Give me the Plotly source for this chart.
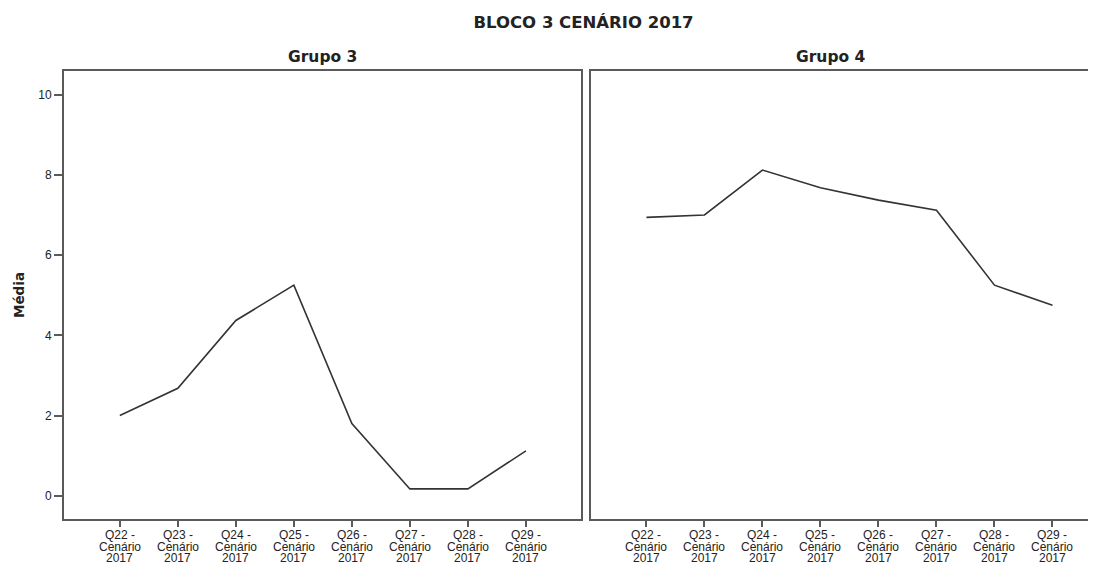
import plotly.graph_objects as go
from plotly.subplots import make_subplots

# Dados
categorias = ["Q22", "Q23", "Q24", "Q25", "Q26", "Q27", "Q28", "Q29"]
linhas_rotulo = ["{} -", "Cenário", "2017"]
grupo3 = [2.0, 2.68, 4.37, 5.25, 1.80, 0.17, 0.17, 1.12]
grupo4 = [6.94, 7.0, 8.12, 7.68, 7.37, 7.12, 5.25, 4.75]
ticks_y = [0, 2, 4, 6, 8, 10]

fonte_tit = 'DejaVu Sans, Arial, sans-serif'
fonte = 'Liberation Sans, Arial, sans-serif'
cor_txt = '#222222'
cor_borda = '#5a5a5a'

# a pagina tem margem de 8px no body, por isso a figura e 8px menor
W, H = 1088, 557

fig = make_subplots(rows=1, cols=2, shared_yaxes=True)

fig.add_trace(go.Scatter(x=categorias, y=grupo3, mode='lines',
                         line=dict(color='#333333', width=1.6), showlegend=False), row=1, col=1)
fig.add_trace(go.Scatter(x=categorias, y=grupo4, mode='lines',
                         line=dict(color='#333333', width=1.6), showlegend=False), row=1, col=2)

fig.update_layout(
    width=W, height=H,
    margin=dict(l=56, r=0, t=63, b=46),
    paper_bgcolor='white', plot_bgcolor='white',
    font=dict(family=fonte, color=cor_txt, size=12),
    title=dict(text='<b>BLOCO 3 CENÁRIO 2017</b>', x=0.529, xanchor='center',
               y=1 - 14 / H, yanchor='middle',
               font=dict(family=fonte_tit, size=16.5, color=cor_txt)),
    xaxis=dict(domain=[0, 0.501], range=[-0.962, 7.95]),
    xaxis2=dict(domain=[0.5111, 1], range=[-0.948, 7.75]),
)

# eixos
fig.update_xaxes(showline=True, linecolor=cor_borda, linewidth=2, mirror=True,
                 ticks='outside', ticklen=6, tickcolor=cor_borda, tickwidth=1.5,
                 showgrid=False, showticklabels=False)
fig.update_yaxes(showgrid=False, zeroline=False, range=[-0.58, 10.59],
                 tickvals=ticks_y, tickfont=dict(size=12, color=cor_txt))
fig.update_yaxes(showline=True, linecolor=cor_borda, linewidth=2, mirror=True,
                 ticks='outside', ticklen=8, tickcolor=cor_borda, tickwidth=1.5,
                 ticklabelstandoff=0, row=1, col=1)
fig.update_yaxes(showline=True, linecolor=cor_borda, linewidth=2, mirror=False,
                 ticks='', showticklabels=False, row=1, col=2)

# titulos dos grupos
for xr, nome in [('x domain', 'Grupo 3'), ('x2 domain', 'Grupo 4')]:
    fig.add_annotation(text='<b>' + nome + '</b>', xref=xr, x=0.5 if xr == 'x domain' else 0.474,
                       yref='paper', y=1, yanchor='middle', yshift=14, showarrow=False,
                       font=dict(family=fonte_tit, size=15.5, color=cor_txt))

# rotulos do eixo x (tres linhas, espaçamento compacto)
for xr in ['x', 'x2']:
    for cat in categorias:
        for i, modelo in enumerate(linhas_rotulo):
            fig.add_annotation(text=modelo.format(cat), xref=xr, x=cat, yref='paper', y=0,
                               yanchor='middle', yshift=-16 - 11.5 * i, showarrow=False,
                               font=dict(size=12, color=cor_txt))

# titulo do eixo y
fig.add_annotation(text='<b>Média</b>', xref='paper', x=0, xshift=-45, xanchor='center',
                   yref='paper', y=0.5, yanchor='middle', textangle=-90, showarrow=False,
                   font=dict(family=fonte_tit, size=13.5, color=cor_txt))

fig.write_html("out.html")
